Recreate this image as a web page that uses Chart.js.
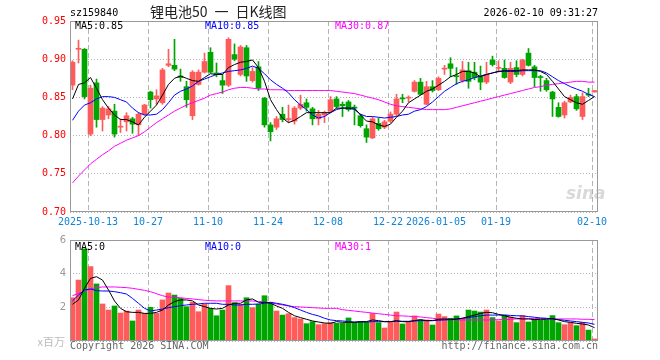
<!DOCTYPE html>
<html>
<head>
<meta charset="utf-8">
<script src="https://cdn.jsdelivr.net/npm/chart.js@4.4.1/dist/chart.umd.min.js"></script>
<style>
  body { margin: 0; background: #fff; }
  #wrap { position: relative; width: 660px; height: 360px; overflow: hidden; }
  canvas { position: absolute; left: 0; }
  .t { position: absolute; font-family: 'DejaVu Sans Mono', monospace; font-size: 10px; line-height: 12px; white-space: pre; }
</style>
</head>
<body>
<div id="wrap">
  <canvas id="kChart" width="660" height="230" style="top:0"></canvas>
  <canvas id="volChart" width="660" height="130" style="top:230px"></canvas>
  <div class="t" style="left:70px;top:7px;color:#000">sz159840</div>
  <div class="t" style="left:150px;top:3px;font-family:'Noto Sans CJK SC',sans-serif;font-size:14px;line-height:16px;color:#222">锂电池50&ensp;一&ensp;日K线图</div>
  <div class="t" style="right:62px;top:7px;color:#000">2026-02-10 09:31:27</div>
  <div class="t" style="left:75px;top:20px;color:#000">MA5:0.85</div>
  <div class="t" style="left:205px;top:20px;color:#0000ff">MA10:0.85</div>
  <div class="t" style="left:335px;top:20px;color:#ff00ff">MA30:0.87</div>
  <div class="t" style="left:75px;top:241px;color:#000">MA5:0</div>
  <div class="t" style="left:205px;top:241px;color:#0000ff">MA10:0</div>
  <div class="t" style="left:335px;top:241px;color:#ff00ff">MA30:1</div>
  <div class="t" style="right:595px;top:334px;font-family:'Noto Sans CJK SC',sans-serif;font-size:11px;line-height:14px;color:#bbb">x百万</div>
  <div class="t" style="left:70px;top:340px;color:#666">Copyright 2026 SINA.COM</div>
  <div class="t" style="right:62px;top:340px;color:#666">http://finance.sina.com.cn</div>
  <div class="t" style="left:566px;top:183px;font-family:'DejaVu Sans',sans-serif;font-size:17px;line-height:20px;font-style:italic;font-weight:bold;color:rgba(170,170,170,0.45)">sina</div>
</div>
<script>
// x axis labels and the candle index they sit on
const tickIdx = [3, 13, 23, 33, 43, 53, 61, 71, 87]
const tickText = ['2025-10-13', '10-27', '11-10', '11-24', '12-08', '12-22', '2026-01-05', '01-19', '02-10']

const open = [0.866,0.913,0.913,0.802,0.869,0.821,0.827,0.832,0.811,0.818,0.822,0.814,0.828,0.857,0.848,0.843,0.892,0.892,0.878,0.864,0.826,0.867,
  0.883,0.909,0.882,0.872,0.866,0.906,0.880,0.915,0.872,0.890,0.849,0.814,0.811,0.828,0.821,0.819,0.836,0.843,0.835,0.822,0.827,0.832,
  0.848,0.841,0.844,0.837,0.826,0.809,0.797,0.816,0.811,0.819,0.828,0.849,0.849,0.858,0.870,0.841,0.864,0.860,0.887,0.894,0.878,0.872,
  0.885,0.883,0.877,0.870,0.899,0.888,0.888,0.870,0.889,0.880,0.908,0.890,0.877,0.872,0.857,0.837,0.827,0.844,0.851,0.825,0.854,0.857]
const high = [0.898,0.925,0.914,0.866,0.874,0.838,0.838,0.841,0.822,0.830,0.824,0.830,0.841,0.858,0.860,0.888,0.913,0.926,0.887,0.871,0.885,0.886,
  0.908,0.915,0.895,0.880,0.928,0.920,0.918,0.918,0.889,0.897,0.850,0.817,0.825,0.837,0.840,0.838,0.853,0.848,0.837,0.833,0.832,0.851,
  0.851,0.844,0.846,0.840,0.828,0.814,0.824,0.823,0.820,0.831,0.854,0.854,0.852,0.872,0.875,0.871,0.872,0.877,0.892,0.902,0.889,0.897,
  0.896,0.896,0.891,0.896,0.904,0.898,0.899,0.896,0.898,0.900,0.914,0.892,0.879,0.875,0.858,0.843,0.845,0.853,0.854,0.856,0.862,0.859]
const low = [0.860,0.895,0.848,0.800,0.811,0.806,0.822,0.798,0.804,0.806,0.803,0.800,0.827,0.836,0.841,0.841,0.890,0.885,0.871,0.837,0.821,0.866,
  0.882,0.882,0.877,0.855,0.864,0.898,0.878,0.871,0.870,0.859,0.811,0.793,0.808,0.818,0.817,0.815,0.834,0.832,0.814,0.814,0.817,0.830,
  0.836,0.825,0.832,0.814,0.811,0.791,0.796,0.807,0.809,0.817,0.826,0.843,0.844,0.857,0.853,0.840,0.857,0.859,0.880,0.877,0.867,0.870,
  0.862,0.873,0.860,0.868,0.891,0.883,0.875,0.868,0.877,0.878,0.891,0.864,0.858,0.858,0.825,0.824,0.823,0.843,0.833,0.821,0.851,0.857]
const close = [0.896,0.914,0.851,0.862,0.821,0.836,0.835,0.802,0.812,0.826,0.815,0.828,0.840,0.847,0.852,0.886,0.894,0.887,0.876,0.847,0.883,0.883,
  0.897,0.883,0.880,0.866,0.926,0.900,0.916,0.878,0.884,0.862,0.814,0.805,0.822,0.821,0.822,0.836,0.841,0.837,0.822,0.828,0.830,0.847,
  0.838,0.839,0.834,0.836,0.813,0.798,0.822,0.809,0.818,0.828,0.848,0.848,0.850,0.870,0.854,0.864,0.859,0.875,0.888,0.888,0.877,0.886,
  0.871,0.876,0.870,0.880,0.893,0.889,0.876,0.888,0.880,0.899,0.892,0.876,0.876,0.860,0.848,0.825,0.843,0.850,0.835,0.851,0.853,0.859]

const ma5 = [0.848,0.867,0.869,0.876,0.862,0.847,0.836,0.827,0.821,0.821,0.818,0.814,0.824,0.832,0.840,0.853,0.867,0.875,0.878,0.875,0.872,0.871,
  0.876,0.881,0.880,0.880,0.889,0.893,0.896,0.897,0.899,0.889,0.871,0.847,0.834,0.823,0.817,0.820,0.825,0.830,0.830,0.830,0.830,0.830,
  0.836,0.836,0.836,0.836,0.827,0.819,0.818,0.814,0.812,0.815,0.824,0.832,0.843,0.848,0.853,0.858,0.861,0.866,0.871,0.877,0.880,0.884,
  0.884,0.882,0.877,0.880,0.882,0.884,0.885,0.885,0.885,0.886,0.886,0.886,0.884,0.880,0.871,0.861,0.851,0.847,0.843,0.841,0.846,0.851]
const ma10 = [0.820,0.832,0.840,0.843,0.848,0.851,0.851,0.850,0.847,0.844,0.836,0.830,0.827,0.827,0.828,0.834,0.843,0.853,0.858,0.861,0.865,0.871,
  0.874,0.877,0.880,0.882,0.884,0.885,0.886,0.888,0.891,0.888,0.881,0.873,0.867,0.862,0.856,0.847,0.840,0.834,0.827,0.823,0.825,0.830,
  0.834,0.836,0.836,0.834,0.828,0.825,0.825,0.824,0.823,0.824,0.825,0.827,0.828,0.832,0.834,0.838,0.844,0.851,0.858,0.863,0.868,0.871,
  0.873,0.876,0.878,0.880,0.882,0.884,0.884,0.884,0.884,0.885,0.885,0.885,0.885,0.882,0.877,0.872,0.868,0.864,0.861,0.858,0.854,0.851]
const ma30 = [0.738,0.747,0.755,0.763,0.769,0.775,0.780,0.786,0.790,0.794,0.797,0.800,0.805,0.811,0.817,0.822,0.827,0.832,0.836,0.840,0.843,0.846,
  0.849,0.853,0.855,0.857,0.860,0.862,0.863,0.863,0.862,0.861,0.861,0.860,0.860,0.860,0.859,0.859,0.859,0.859,0.859,0.859,0.859,0.859,
  0.858,0.857,0.856,0.855,0.853,0.851,0.849,0.847,0.844,0.841,0.839,0.838,0.837,0.836,0.835,0.834,0.834,0.834,0.834,0.835,0.837,0.839,
  0.841,0.843,0.845,0.847,0.849,0.851,0.853,0.855,0.857,0.859,0.861,0.863,0.864,0.866,0.867,0.868,0.869,0.870,0.871,0.871,0.870,0.870]

// volume, in millions
const vol = [2.57,3.62,5.47,4.42,3.39,2.20,1.84,2.08,1.66,1.78,1.19,1.84,1.64,2.00,1.64,2.44,2.85,2.73,2.53,2.04,2.30,1.74,
  2.18,1.94,1.50,1.84,3.29,2.28,2.18,2.57,1.98,2.18,2.69,2.30,1.78,1.54,1.62,1.39,1.31,1.03,1.15,0.97,1.03,1.09,
  1.05,1.05,1.37,1.11,1.15,1.11,1.64,1.09,0.77,1.11,1.72,1.01,1.15,1.49,1.25,1.25,0.95,1.60,1.45,1.35,1.49,1.35,
  1.84,1.78,1.72,1.84,1.39,1.19,1.54,1.43,1.09,1.51,1.13,1.29,1.25,1.25,1.51,1.09,0.97,1.09,0.91,1.11,0.65,0.12]
const volMa5 = [2.18,2.44,3.13,3.72,3.82,3.62,3.03,2.38,1.94,1.74,1.70,1.70,1.64,1.64,1.70,1.84,2.14,2.34,2.44,2.44,2.38,2.14,
  2.04,1.94,1.90,1.94,2.14,2.24,2.24,2.44,2.50,2.30,2.30,2.24,2.08,1.94,1.70,1.50,1.39,1.29,1.19,1.13,1.07,1.05,
  1.15,1.11,1.11,1.11,1.15,1.15,1.25,1.21,1.15,1.15,1.21,1.15,1.15,1.21,1.27,1.21,1.21,1.29,1.31,1.29,1.31,1.35,
  1.45,1.54,1.64,1.70,1.68,1.58,1.50,1.41,1.35,1.31,1.31,1.27,1.29,1.29,1.33,1.25,1.15,1.11,1.05,1.01,0.95,0.79]
const volMa10 = [2.38,2.73,3.03,3.09,2.99,2.97,2.97,2.93,2.87,2.79,2.53,2.24,1.94,1.78,1.84,1.90,1.98,2.04,2.10,2.14,2.18,2.20,
  2.24,2.24,2.24,2.18,2.18,2.14,2.14,2.18,2.18,2.20,2.24,2.30,2.24,2.18,2.10,1.98,1.84,1.70,1.58,1.49,1.35,1.25,
  1.21,1.19,1.15,1.13,1.13,1.13,1.15,1.15,1.15,1.15,1.17,1.17,1.17,1.19,1.21,1.21,1.21,1.23,1.25,1.27,1.29,1.35,
  1.39,1.45,1.50,1.54,1.54,1.54,1.54,1.52,1.50,1.49,1.45,1.41,1.37,1.35,1.31,1.27,1.23,1.19,1.15,1.11,1.07,0.99]
const volMa30 = [2.69,2.83,2.97,3.09,3.17,3.21,3.21,3.21,3.19,3.17,3.13,3.07,3.01,2.93,2.81,2.69,2.61,2.59,2.57,2.53,2.50,2.46,
  2.42,2.40,2.38,2.38,2.38,2.38,2.38,2.38,2.38,2.34,2.30,2.26,2.20,2.14,2.08,2.04,2.02,2.00,1.98,1.96,1.94,1.94,
  1.94,1.86,1.82,1.78,1.74,1.70,1.66,1.62,1.58,1.54,1.50,1.49,1.47,1.45,1.43,1.39,1.35,1.31,1.29,1.27,1.25,1.25,
  1.25,1.25,1.25,1.25,1.25,1.27,1.27,1.29,1.31,1.31,1.33,1.33,1.33,1.33,1.31,1.31,1.31,1.31,1.31,1.29,1.29,1.27]

const RED = '#ff5b5b'
const GREEN = '#00a600'
const GRIDC = '#b4b4b4'
const N = close.length

// x position of a candle (slightly left of the slot centre like the original)
const xs = close.map((c, i) => i + 5 / 12)
const colors = close.map((c, i) => c >= open[i] ? RED : GREEN)

const frame = {
  id: 'frame',
  afterDraw(chart) {
    const a = chart.chartArea
    const c = chart.ctx
    c.save()
    c.strokeStyle = '#999'
    c.lineWidth = 1
    c.strokeRect(a.left + 0.5, a.top + 0.5, a.right - a.left - 1, a.bottom - a.top - 1)
    c.restore()
  }
}

const lineDs = (data, color) => ({
  type: 'line',
  data: data.map((v, i) => ({ x: xs[i], y: v })),
  borderColor: color,
  borderWidth: 1,
  pointRadius: 0,
  tension: 0,
  order: 0
})

const xAxis = (showLabels, h) => ({
  type: 'linear',
  min: 0,
  max: N,
  offset: false,
  afterBuildTicks: s => { s.ticks = tickIdx.map(v => ({ value: v })) },
  afterFit: s => { s.height = h },
  ticks: {
    display: showLabels,
    autoSkip: false,
    maxRotation: 0,
    padding: 4,
    color: '#1284d6',
    font: { family: 'DejaVu Sans Mono', size: 10 },
    callback: v => tickText[tickIdx.indexOf(v)]
  },
  grid: { color: GRIDC, drawTicks: false, offset: false },
  border: { display: false, dash: [5, 3] }
})

new Chart(document.getElementById('kChart'), {
  type: 'bar',
  data: {
    datasets: [
      lineDs(ma5, '#000000'),
      lineDs(ma10, '#0000ff'),
      lineDs(ma30, '#ff00ff'),
      {
        // wicks
        data: xs.map((x, i) => ({ x: x, y: [low[i], high[i]] })),
        backgroundColor: colors,
        barThickness: 1,
        grouped: false,
        minBarLength: 1,
        order: 2
      },
      {
        // bodies
        data: xs.map((x, i) => ({ x: x, y: [open[i], close[i]] })),
        backgroundColor: colors,
        barThickness: 5,
        grouped: false,
        minBarLength: 1,
        order: 1
      }
    ]
  },
  options: {
    responsive: false,
    animation: false,
    layout: { padding: { top: 21, right: 62, left: 0, bottom: 0 } },
    plugins: { legend: { display: false }, tooltip: { enabled: false } },
    scales: {
      x: xAxis(true, 18),
      y: {
        min: 0.70,
        max: 0.95,
        afterBuildTicks: s => { s.ticks = [0.70, 0.75, 0.80, 0.85, 0.90, 0.95].map(v => ({ value: v })) },
        afterFit: s => { s.width = 70 },
        ticks: {
          padding: 4,
          color: '#ff0000',
          font: { family: 'DejaVu Sans Mono', size: 10 },
          callback: v => v.toFixed(2)
        },
        grid: { color: GRIDC, drawTicks: false },
        border: { display: false, dash: [1, 2] }
      }
    }
  },
  plugins: [frame]
});

new Chart(document.getElementById('volChart'), {
  type: 'bar',
  data: {
    datasets: [
      lineDs(volMa5, '#000000'),
      lineDs(volMa10, '#0000ff'),
      lineDs(volMa30, '#ff00ff'),
      {
        data: xs.map((x, i) => ({ x: x, y: vol[i] })),
        backgroundColor: colors,
        barThickness: 5,
        grouped: false,
        order: 1
      }
    ]
  },
  options: {
    responsive: false,
    animation: false,
    layout: { padding: { top: 10, right: 62, left: 0, bottom: 0 } },
    plugins: { legend: { display: false }, tooltip: { enabled: false } },
    scales: {
      x: xAxis(false, 19),
      y: {
        min: 0,
        max: 6,
        afterBuildTicks: s => { s.ticks = [0, 2, 4, 6].map(v => ({ value: v })) },
        afterFit: s => { s.width = 70 },
        ticks: {
          padding: 4,
          color: '#999',
          font: { family: 'DejaVu Sans', size: 10 },
          callback: v => v === 0 ? '' : String(v)
        },
        grid: { color: GRIDC, drawTicks: false },
        border: { display: false, dash: [1, 2] }
      }
    }
  },
  plugins: [frame]
});
</script>
</body>
</html>
